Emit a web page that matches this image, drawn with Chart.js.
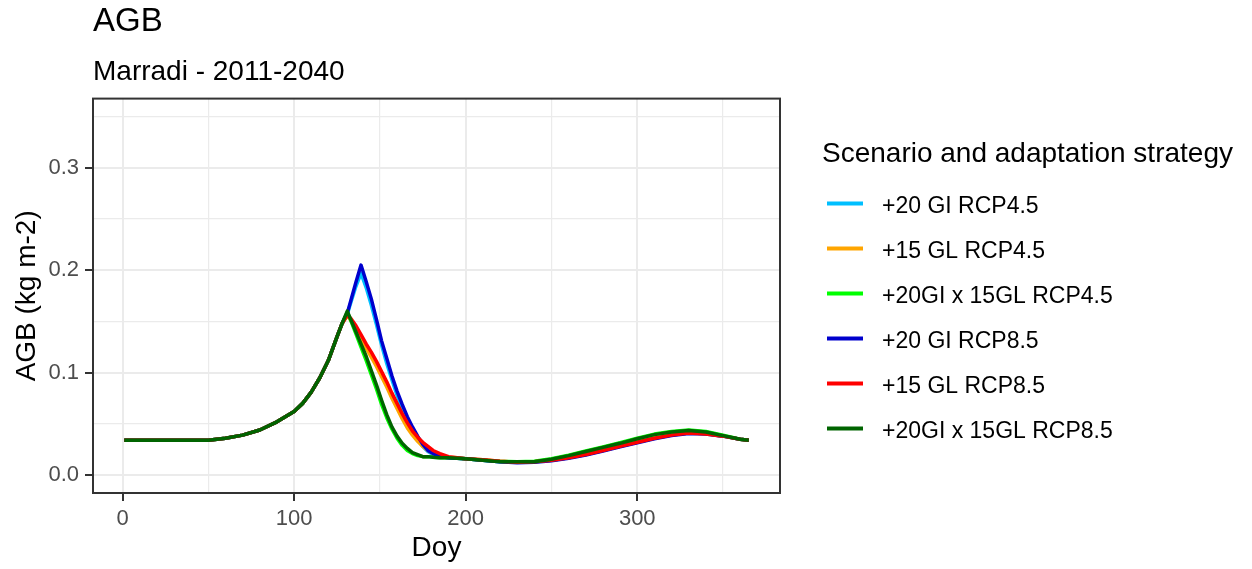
<!DOCTYPE html>
<html>
<head>
<meta charset="utf-8">
<title>AGB - Marradi 2011-2040</title>
<script src="https://cdn.jsdelivr.net/npm/chart.js@4.4.1/dist/chart.umd.min.js"></script>
<style>
  html, body { margin: 0; padding: 0; background: #fff; }
  #wrap { width: 1252px; height: 569px; position: relative; }
</style>
</head>
<body>
<div id="wrap"><canvas id="agbChart"></canvas></div>
<script>
// ---------------- data ----------------
const doy = [1, 20, 40, 50, 55, 60, 70, 80, 90, 100, 105, 110, 115, 120, 125, 128,
  131, 133, 136, 139, 142, 145, 148, 151, 154, 157, 160, 163, 166, 169, 172, 175, 178, 181,
  185, 190, 195, 200, 210, 220, 230, 240, 250, 260, 270, 280, 290, 300, 310, 320, 330, 340,
  350, 360, 365];

const gi20Rcp45 = [0.034, 0.034, 0.034, 0.034, 0.035, 0.036, 0.039, 0.044, 0.052, 0.062, 0.070, 0.081, 0.095, 0.112, 0.135, 0.148,
  0.157, 0.168, 0.184, 0.197, 0.183, 0.166, 0.147, 0.127, 0.109, 0.093, 0.078, 0.065, 0.053, 0.043, 0.035, 0.028, 0.023, 0.020,
  0.018, 0.017, 0.0165, 0.016, 0.0145, 0.013, 0.0125, 0.013, 0.0145, 0.017, 0.020, 0.024, 0.028, 0.032, 0.036, 0.039, 0.041, 0.0405,
  0.038, 0.035, 0.034];

const gl15Rcp45 = [0.034, 0.034, 0.034, 0.034, 0.035, 0.036, 0.039, 0.044, 0.052, 0.062, 0.070, 0.081, 0.095, 0.112, 0.135, 0.148,
  0.156, 0.151, 0.143, 0.133, 0.124, 0.115, 0.106, 0.096, 0.086, 0.075, 0.065, 0.055, 0.046, 0.039, 0.033, 0.028, 0.024, 0.021,
  0.019, 0.0175, 0.017, 0.016, 0.015, 0.0135, 0.0125, 0.013, 0.0145, 0.017, 0.0205, 0.0245, 0.0285, 0.0325, 0.0365, 0.0395, 0.0415, 0.0405,
  0.038, 0.035, 0.034];

const giGlRcp45 = [0.034, 0.034, 0.034, 0.034, 0.035, 0.036, 0.039, 0.044, 0.052, 0.062, 0.070, 0.081, 0.095, 0.112, 0.135, 0.148,
  0.159, 0.151, 0.138, 0.125, 0.112, 0.098, 0.084, 0.069, 0.056, 0.045, 0.036, 0.029, 0.024, 0.021, 0.019, 0.018, 0.018, 0.0175,
  0.017, 0.017, 0.0165, 0.016, 0.0145, 0.0135, 0.013, 0.0135, 0.016, 0.0195, 0.0235, 0.0275, 0.0315, 0.036, 0.040, 0.0425, 0.044, 0.0425,
  0.039, 0.035, 0.034];

const gi20Rcp85 = [0.034, 0.034, 0.034, 0.034, 0.035, 0.036, 0.039, 0.044, 0.052, 0.062, 0.070, 0.081, 0.095, 0.112, 0.135, 0.148,
  0.158, 0.170, 0.188, 0.205, 0.189, 0.172, 0.152, 0.131, 0.114, 0.097, 0.082, 0.069, 0.057, 0.047, 0.038, 0.030, 0.024, 0.021,
  0.018, 0.017, 0.0165, 0.016, 0.0145, 0.013, 0.012, 0.0125, 0.014, 0.0165, 0.0195, 0.0235, 0.0275, 0.0315, 0.0355, 0.0385, 0.0405, 0.040,
  0.038, 0.035, 0.034];

const gl15Rcp85 = [0.034, 0.034, 0.034, 0.034, 0.035, 0.036, 0.039, 0.044, 0.052, 0.062, 0.070, 0.081, 0.095, 0.112, 0.135, 0.148,
  0.156, 0.153, 0.146, 0.137, 0.128, 0.120, 0.111, 0.101, 0.091, 0.080, 0.070, 0.060, 0.051, 0.043, 0.037, 0.032, 0.028, 0.024,
  0.021, 0.018, 0.017, 0.016, 0.015, 0.0135, 0.0125, 0.013, 0.0145, 0.017, 0.020, 0.024, 0.028, 0.032, 0.036, 0.039, 0.041, 0.040,
  0.038, 0.035, 0.034];

const giGlRcp85 = [0.034, 0.034, 0.034, 0.034, 0.035, 0.036, 0.039, 0.044, 0.052, 0.062, 0.070, 0.081, 0.095, 0.112, 0.135, 0.148,
  0.160, 0.152, 0.140, 0.128, 0.116, 0.102, 0.088, 0.073, 0.059, 0.047, 0.038, 0.031, 0.026, 0.022, 0.020, 0.018, 0.018, 0.0175,
  0.017, 0.017, 0.0165, 0.016, 0.0145, 0.013, 0.013, 0.013, 0.0155, 0.019, 0.023, 0.027, 0.031, 0.0355, 0.0395, 0.042, 0.0435, 0.042,
  0.0385, 0.035, 0.034];

const seriesNames = ["+20 GI RCP4.5", "+15 GL RCP4.5", "+20GI x 15GL RCP4.5",
                     "+20 GI RCP8.5", "+15 GL RCP8.5", "+20GI x 15GL RCP8.5"];
const seriesValues = [gi20Rcp45, gl15Rcp45, giGlRcp45, gi20Rcp85, gl15Rcp85, giGlRcp85];
const seriesColors = ["#00BFFF", "#FFA500", "#00FF00", "#0000CD", "#FF0000", "#006400"];

const xMajor = [0, 100, 200, 300];
const xMinor = [50, 150, 250, 350];
const yMajor = [0, 0.1, 0.2, 0.3];
const yMinor = [0.05, 0.15, 0.25, 0.35];

// ---------------- helpers ----------------
const FONT = "'Liberation Sans', Arial, sans-serif";
Chart.defaults.font.family = FONT;

function isMajor(list, v) {
  return list.some(m => Math.abs(m - v) < 1e-9);
}

function setTicks(major, minor) {
  return (axis) => {
    axis.ticks = major.concat(minor).sort((a, b) => a - b).map(v => ({ value: v }));
  };
}

// ggplot style panel border (drawn over the lines)
const panelBorder = {
  id: "panelBorder",
  afterDatasetsDraw(chart) {
    const { ctx, chartArea: a } = chart;
    ctx.save();
    ctx.strokeStyle = "#333333";
    ctx.lineWidth = 2;
    ctx.strokeRect(a.left, a.top, a.right - a.left, a.bottom - a.top);
    ctx.restore();
  }
};

// legend on the right, like ggplot's guide
const ggLegend = {
  id: "ggLegend",
  afterDraw(chart) {
    const { ctx, chartArea: a } = chart;
    const x0 = a.right + 42;
    ctx.save();
    ctx.fillStyle = "#000";
    ctx.textBaseline = "middle";
    ctx.textAlign = "left";
    ctx.font = `28px ${FONT}`;
    ctx.fillText("Scenario and adaptation strategy", x0, 154);

    ctx.font = `23px ${FONT}`;
    chart.data.datasets.forEach((ds, i) => {
      const y = 203.5 + i * 45;
      ctx.strokeStyle = ds.borderColor;
      ctx.lineWidth = 4;
      ctx.beginPath();
      ctx.moveTo(x0 + 5, y);
      ctx.lineTo(x0 + 41, y);
      ctx.stroke();
      ctx.fillText(ds.label, x0 + 60, y + 3.5);
    });
    ctx.restore();
  }
};

// ---------------- chart ----------------
const datasets = seriesNames.map((name, i) => ({
  label: name,
  data: doy.map((d, j) => ({ x: d, y: seriesValues[i][j] })),
  borderColor: seriesColors[i],
  backgroundColor: seriesColors[i],
  borderWidth: 3.5,
  borderJoinStyle: "round",
  pointRadius: 0,
  fill: false,
  tension: 0,
  order: seriesNames.length - i   // last one on top, as in ggplot
}));

new Chart(document.getElementById("agbChart"), {
  type: "line",
  data: { datasets },
  plugins: [panelBorder, ggLegend],
  options: {
    responsive: true,
    maintainAspectRatio: false,
    animation: false,
    layout: { padding: { left: 6, right: 472, top: 0, bottom: 0 } },
    plugins: {
      legend: { display: false },
      tooltip: { enabled: false },
      title: {
        display: true,
        text: "AGB",
        align: "start",
        fullSize: false,
        color: "#000",
        font: { size: 33, weight: "normal" },
        padding: { top: 2, bottom: 13.7 }
      },
      subtitle: {
        display: true,
        text: "Marradi - 2011-2040",
        align: "start",
        fullSize: false,
        color: "#000",
        font: { size: 28 },
        padding: { top: 0, bottom: 9.7 }
      }
    },
    scales: {
      x: {
        type: "linear",
        min: -17.2,
        max: 383.2,
        afterBuildTicks: setTicks(xMajor, xMinor),
        afterFit: (s) => { s.height = 76; },
        border: { display: false },
        grid: {
          color: "#EBEBEB",
          lineWidth: (c) => isMajor(xMajor, c.tick.value) ? 2 : 1.2,
          tickColor: (c) => isMajor(xMajor, c.tick.value) ? "#333333" : "rgba(0,0,0,0)",
          tickLength: 8,
          tickWidth: 2
        },
        ticks: {
          autoSkip: false,
          maxRotation: 0,
          padding: 5,
          color: "#4D4D4D",
          font: { size: 22 },
          callback: (v) => isMajor(xMajor, v) ? String(Math.round(v)) : ""
        },
        title: {
          display: true,
          text: "Doy",
          color: "#000",
          font: { size: 28 },
          padding: { top: 0, bottom: 4 }
        }
      },
      y: {
        type: "linear",
        min: -0.0175,
        max: 0.3675,
        afterBuildTicks: setTicks(yMajor, yMinor),
        afterFit: (s) => { s.width = 87; },
        border: { display: false },
        grid: {
          color: "#EBEBEB",
          lineWidth: (c) => isMajor(yMajor, c.tick.value) ? 2 : 1.2,
          tickColor: (c) => isMajor(yMajor, c.tick.value) ? "#333333" : "rgba(0,0,0,0)",
          tickLength: 8,
          tickWidth: 2
        },
        ticks: {
          autoSkip: false,
          padding: 6,
          color: "#4D4D4D",
          font: { size: 22 },
          callback: (v) => isMajor(yMajor, v) ? v.toFixed(1) : ""
        },
        title: {
          display: true,
          text: "AGB (kg m-2)",
          color: "#000",
          font: { size: 28 },
          padding: { top: 4, bottom: 0 }
        }
      }
    }
  }
});
</script>
</body>
</html>
